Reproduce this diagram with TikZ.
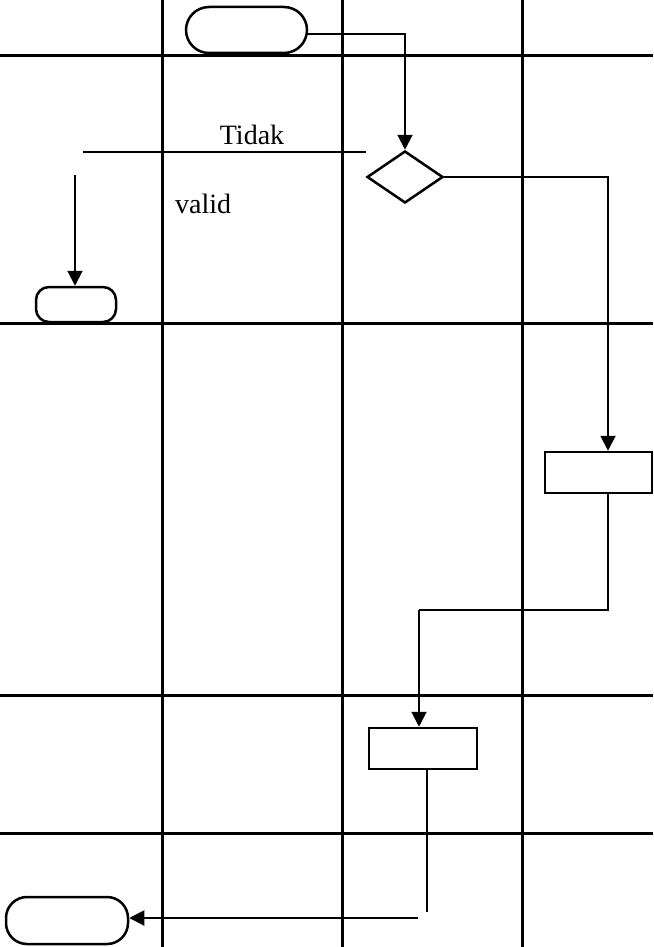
\documentclass[tikz,border=0pt]{standalone}
\usepackage{fontspec}
\setmainfont{Liberation Serif}
\usetikzlibrary{arrows.meta,shapes.geometric}
\tikzset{
  lane/.style={line width=3pt},
  terminal/.style={draw,line width=2.5pt,rounded corners=#1,inner sep=0pt},
  actbox/.style={draw,line width=2.5pt,rectangle,inner sep=0pt,minimum width=107pt,minimum height=41pt},
  decide/.style={draw,line width=2.5pt,diamond,inner sep=0pt,minimum width=76pt,minimum height=52pt},
  flow/.style={line width=2pt},
  flowarrow/.style={flow,-{Triangle[length=15pt,width=15pt]}},
  lbl/.style={font=\fontsize{28}{30}\selectfont,inner sep=0pt}
}
\begin{document}
\begin{tikzpicture}[x=1pt,y=-1pt]
  \useasboundingbox (0,0) rectangle (653,947);
  \fill[white] (0,0) rectangle (653,947);

  % swimlane grid
  \foreach \gx in {162,342,522} \draw[lane] (\gx,0) -- (\gx,947);
  \foreach \gy in {56,323,695,833} \draw[lane] (0,\gy) -- (653,\gy);

  % activity nodes
  \node[terminal=23pt,minimum width=121pt,minimum height=46pt] (start) at (246.5,30) {};
  \node[decide] (dia) at (405,177) {};
  \node[terminal=13pt,minimum width=80pt,minimum height=35pt] (back) at (76,304.5) {};
  \node[actbox] (r1) at (598.5,472.5) {};
  \node[actbox,minimum width=108pt] (r2) at (423,748.5) {};
  \node[terminal=21pt,minimum width=122pt,minimum height=47pt] (stop) at (67,920.5) {};

  % labels
  \node[lbl,anchor=base] (tidak) at (252,144) {Tidak};
  \node[lbl,anchor=base west] (valid) at (175,213) {valid};

  % helper points for the loose line ends
  \coordinate (t1) at (83,152);
  \coordinate (t2) at (366,152);
  \coordinate (d1) at (75,175);
  \coordinate (k1) at (608,0);
  \coordinate (j1) at (419,610);
  \coordinate (e1) at (427,912);
  \coordinate (e2) at (418,918);

  % connectors
  \draw[flowarrow] ([yshift=-4pt]start.east) -| (dia.north);
  \draw[flow] (t1) -- (t2);
  \draw[flowarrow] (d1) -- (d1 |- back.north);
  \draw[flowarrow] (dia.east) -| (k1 |- r1.north);
  \draw[flow] (k1 |- r1.south) |- (j1);
  \draw[flowarrow] (j1) -- (j1 |- r2.north);
  \draw[flow] (r2.south -| e1) -- (e1);
  \draw[flowarrow] (e2) -- (e2 -| stop.east);
\end{tikzpicture}
\end{document}
